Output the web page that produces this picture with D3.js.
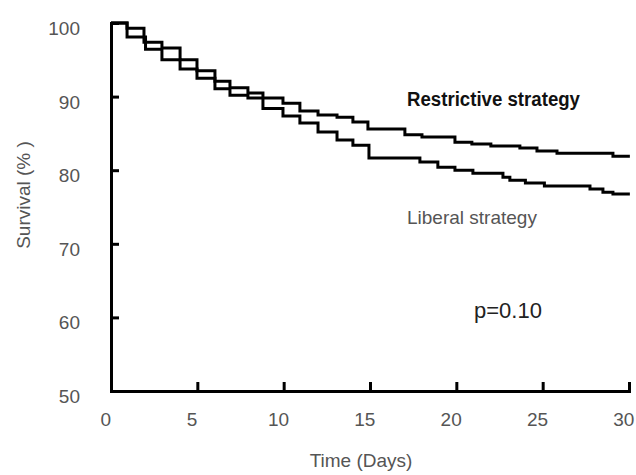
<!DOCTYPE html>
<html>
<head>
<meta charset="utf-8">
<script src="https://cdn.jsdelivr.net/npm/d3@7"></script>
<style>
  body { margin: 0; background: #fff; }
  svg { display: block; font-family: "Liberation Sans", Arial, sans-serif; }
</style>
</head>
<body>
<div id="chart"></div>
<script>
// Kaplan-Meier steps: [day, survival %]
var liberal = [
    [0, 100], [0.93, 99.3], [1.91, 97.4], [2.95, 96.6], [4.0, 95.0],
    [4.98, 93.5], [6.02, 92.1], [6.89, 91.2], [7.93, 90.5], [8.8, 88.4],
    [9.96, 87.35], [10.94, 86.4], [11.99, 85.2], [13.09, 84.1], [14.01, 83.4],
    [14.94, 81.65], [17.89, 81.1], [18.93, 80.4], [19.92, 80.0], [20.96, 79.6],
    [22.7, 79.05], [23.1, 78.65], [24.0, 78.25], [25.1, 77.85], [27.74, 77.45],
    [28.49, 77.0], [29.07, 76.75], [30.05, 76.75]
];

var restrictive = [
    [0, 100], [0.93, 98.1], [2.0, 96.45], [2.95, 95.0], [4.0, 93.75],
    [4.98, 92.5], [6.02, 91.05], [6.89, 90.2], [7.93, 89.8], [9.96, 89.1],
    [10.94, 88.05], [11.99, 87.5], [13.09, 87.2], [14.01, 86.55], [14.88, 85.6],
    [17.02, 84.8], [18.01, 84.5], [19.92, 83.8], [20.9, 83.55], [22.0, 83.3],
    [23.68, 83.0], [24.67, 82.6], [25.83, 82.3], [29.07, 81.9], [30.05, 81.9]
];

var xTicks = [0, 5, 10, 15, 20, 25, 30];
var yTicks = [50, 60, 70, 80, 90, 100];

var width = 636;
var height = 475;

var svg = d3.select('#chart')
    .append('svg')
    .attr('width', width)
    .attr('height', height);

svg.append('rect')
    .attr('width', width)
    .attr('height', height)
    .attr('fill', '#fff');

var x = d3.scaleLinear().domain([0, 30]).range([111, 629]);
var y = d3.scaleLinear().domain([50, 100]).range([391, 23]);

var line = d3.line()
    .x(function (d) { return x(d[0]); })
    .y(function (d) { return y(d[1]); })
    .curve(d3.curveStepAfter);

[liberal, restrictive].forEach(function (data) {
    svg.append('path')
        .datum(data)
        .attr('d', line)
        .attr('fill', 'none')
        .attr('stroke', '#000')
        .attr('stroke-width', 3);
});

// axes, ticks pointing inward
var xAxis = svg.append('g')
    .attr('transform', 'translate(0,' + y(50) + ')')
    .call(d3.axisBottom(x).tickValues(xTicks).tickSizeInner(-9).tickSizeOuter(0).tickPadding(22));

var yAxis = svg.append('g')
    .attr('transform', 'translate(' + x(0) + ',0)')
    .call(d3.axisLeft(y).tickValues(yTicks).tickSizeInner(-8).tickSizeOuter(0).tickPadding(31));

[xAxis, yAxis].forEach(function (g) {
    g.select('.domain').attr('stroke', '#000').attr('stroke-width', 3).attr('stroke-linecap', 'square');
    g.selectAll('.tick line').attr('stroke', '#000').attr('stroke-width', 3);
    g.selectAll('.tick text')
        .attr('fill', '#555')
        .style('font-size', '19px')
        .style('font-family', '"Liberation Sans", Arial, sans-serif');
});
xAxis.selectAll('.tick text').attr('dx', '-0.3em');
yAxis.selectAll('.tick text').attr('dy', '0.6em');

// axis titles
svg.append('text')
    .attr('x', 361)
    .attr('y', 467)
    .attr('text-anchor', 'middle')
    .attr('fill', '#555')
    .style('font-size', '19px')
    .text('Time (Days)');

svg.append('text')
    .attr('transform', 'translate(30,195) rotate(-90)')
    .attr('text-anchor', 'middle')
    .attr('fill', '#555')
    .style('font-size', '19px')
    .text('Survival (% )');

// curve labels
svg.append('text')
    .attr('x', 407)
    .attr('y', 106)
    .attr('fill', '#111')
    .style('font-size', '20px')
    .style('font-weight', 'bold')
    .attr('textLength', 173)
    .attr('lengthAdjust', 'spacingAndGlyphs')
    .text('Restrictive strategy');

svg.append('text')
    .attr('x', 407)
    .attr('y', 224)
    .attr('fill', '#555')
    .style('font-size', '19px')
    .text('Liberal strategy');

svg.append('text')
    .attr('x', 474)
    .attr('y', 318)
    .attr('fill', '#222')
    .style('font-size', '22px')
    .text('p=0.10');
</script>
</body>
</html>
